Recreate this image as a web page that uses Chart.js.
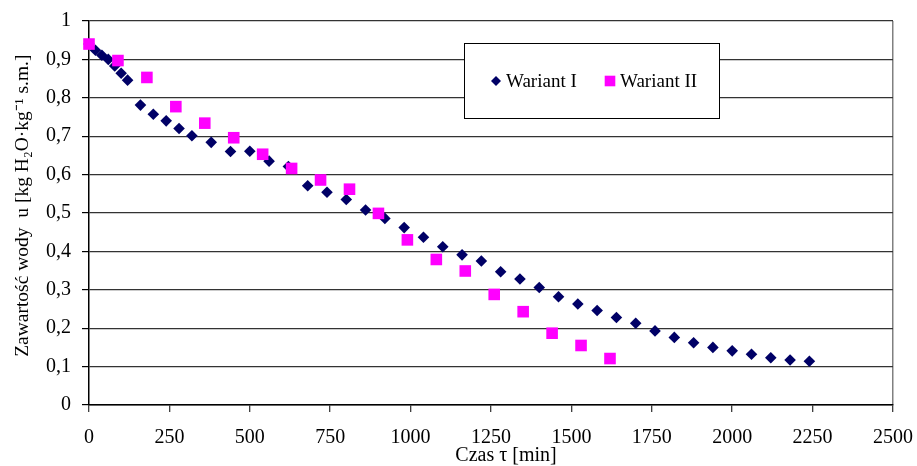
<!DOCTYPE html>
<html>
<head>
<meta charset="utf-8">
<script src="https://cdn.jsdelivr.net/npm/chart.js@4/dist/chart.umd.min.js"></script>
<style>
  html, body { margin: 0; padding: 0; background: #fff; }
  #wrap { width: 917px; height: 466px; }
</style>
</head>
<body>
<div id="wrap"><canvas id="c" width="917" height="466"></canvas></div>
<script>
// ---- data ----
const seriesILabel = 'Wariant I';
const seriesIILabel = 'Wariant II';
const timeI = [0, 20, 40, 60, 80, 100, 120, 160, 200, 240, 280, 320, 380, 440, 500, 560, 620, 680, 740, 800, 860, 920, 980, 1040, 1100, 1160, 1220, 1280, 1340, 1400, 1460, 1520, 1580, 1640, 1700, 1760, 1820, 1880, 1940, 2000, 2060, 2120, 2180, 2240];
const moistureI = [0.940, 0.924, 0.911, 0.900, 0.883, 0.864, 0.846, 0.781, 0.757, 0.740, 0.720, 0.701, 0.684, 0.660, 0.661, 0.635, 0.621, 0.571, 0.554, 0.535, 0.508, 0.486, 0.462, 0.437, 0.412, 0.391, 0.375, 0.347, 0.328, 0.306, 0.282, 0.263, 0.246, 0.228, 0.213, 0.193, 0.176, 0.162, 0.150, 0.141, 0.132, 0.123, 0.117, 0.114];
const timeII = [0, 90, 180, 270, 360, 450, 540, 630, 720, 810, 900, 990, 1080, 1170, 1260, 1350, 1440, 1530, 1620];
const moistureII = [0.940, 0.897, 0.853, 0.777, 0.734, 0.696, 0.653, 0.616, 0.586, 0.562, 0.499, 0.430, 0.379, 0.349, 0.288, 0.243, 0.187, 0.155, 0.121];
const xTickLabels = ['0', '250', '500', '750', '1000', '1250', '1500', '1750', '2000', '2250', '2500'];
const yTickLabels = ['0', '0,1', '0,2', '0,3', '0,4', '0,5', '0,6', '0,7', '0,8', '0,9', '1'];
const xTitle = '      Czas \u03C4 [min]';
const yTitle = '   Zawarto\u015B\u0107 wody  u [kg H\u2082O\u00B7kg\u207B\u00B9 s.m.]';

// ---- chart ----
const FONT = "'Liberation Serif', 'Times New Roman', serif";
const colI = '#000066';
const colII = '#FF00FF';

const legendBox = {
  id: 'legendBox',
  afterDatasetsDraw(chart) {
    const ctx = chart.ctx;
    ctx.save();
    ctx.fillStyle = '#fff';
    ctx.strokeStyle = '#000';
    ctx.lineWidth = 1;
    ctx.fillRect(464.5, 43.5, 255, 75);
    ctx.strokeRect(464.5, 43.5, 255, 75);
    const items = [
      { ds: chart.data.datasets[0], mx: 496, tx: 506 },
      { ds: chart.data.datasets[1], mx: 610, tx: 620 }
    ];
    ctx.font = "19px " + FONT;
    ctx.textBaseline = 'middle';
    ctx.textAlign = 'left';
    items.forEach(it => {
      ctx.fillStyle = it.ds.backgroundColor;
      ctx.strokeStyle = it.ds.borderColor;
      ctx.lineWidth = 1;
      Chart.helpers.drawPoint(ctx, {
        pointStyle: it.ds.pointStyle,
        radius: it.ds.pointStyle === 'rect' ? 7.5 : 5,
        rotation: 0,
        borderWidth: 0
      }, it.mx, 81);
      ctx.fillStyle = '#000';
      ctx.fillText(it.ds.label, it.tx, 82);
    });
    ctx.restore();
  }
};

new Chart(document.getElementById('c'), {
  type: 'scatter',
  data: {
    datasets: [
      {
        label: seriesILabel,
        data: timeI.map((t, i) => ({ x: t, y: moistureI[i] })),
        pointStyle: 'rectRot',
        pointRadius: 5.8,
        pointHoverRadius: 5.8,
        backgroundColor: colI,
        borderColor: colI,
        borderWidth: 0,
        clip: false,
        order: 1
      },
      {
        label: seriesIILabel,
        data: timeII.map((t, i) => ({ x: t, y: moistureII[i] })),
        pointStyle: 'rect',
        pointRadius: 8.2,
        pointHoverRadius: 8.2,
        backgroundColor: colII,
        borderColor: colII,
        borderWidth: 0,
        clip: false,
        order: 0
      }
    ]
  },
  options: {
    responsive: false,
    animation: false,
    events: [],
    layout: { padding: { left: 0, right: 24, top: 21, bottom: 0 } },
    plugins: {
      legend: { display: false },
      tooltip: { enabled: false }
    },
    scales: {
      x: {
        type: 'linear',
        min: 0,
        max: 2500,
        afterBuildTicks: (scale) => {
          scale.ticks = xTickLabels.map(v => ({ value: Number(v) }));
        },
        ticks: {
          color: '#000',
          font: { family: FONT, size: 20 },
          padding: 14,
          maxRotation: 0,
          autoSkip: false,
          callback: (v, i) => xTickLabels[i]
        },
        grid: {
          drawOnChartArea: true,
          color: (c) => (c.tick && c.tick.value === 2500) ? '#808080' : 'rgba(0,0,0,0)',
          lineWidth: 1.5,
          tickColor: '#000',
          tickLength: 7,
          tickWidth: 1
        },
        border: { display: true, color: '#000', width: 1.5 },
        title: {
          display: true,
          text: xTitle,
          color: '#000',
          font: { family: FONT, size: 20, lineHeight: 1.0 },
          padding: { top: 0, bottom: 0 }
        },
        afterFit: (scale) => { scale.height = 61; scale.paddingLeft = 0; scale.paddingRight = 0; }
      },
      y: {
        type: 'linear',
        min: 0,
        max: 1,
        afterBuildTicks: (scale) => {
          scale.ticks = yTickLabels.map((s, i) => ({ value: i / 10 }));
        },
        ticks: {
          color: '#000',
          font: { family: FONT, size: 20 },
          padding: 11,
          autoSkip: false,
          callback: (v, i) => yTickLabels[i]
        },
        grid: {
          color: '#333',
          lineWidth: 1.2,
          tickColor: '#000',
          tickLength: 7
        },
        border: { display: true, color: '#000', width: 1.5 },
        title: {
          display: true,
          text: yTitle,
          color: '#000',
          font: { family: FONT, size: 19.5, lineHeight: 1.2 },
          padding: { top: 11, bottom: 0 }
        },
        afterFit: (scale) => { scale.width = 89; scale.paddingTop = 0; scale.paddingBottom = 0; }
      }
    }
  },
  plugins: [legendBox]
});
</script>
</body>
</html>
